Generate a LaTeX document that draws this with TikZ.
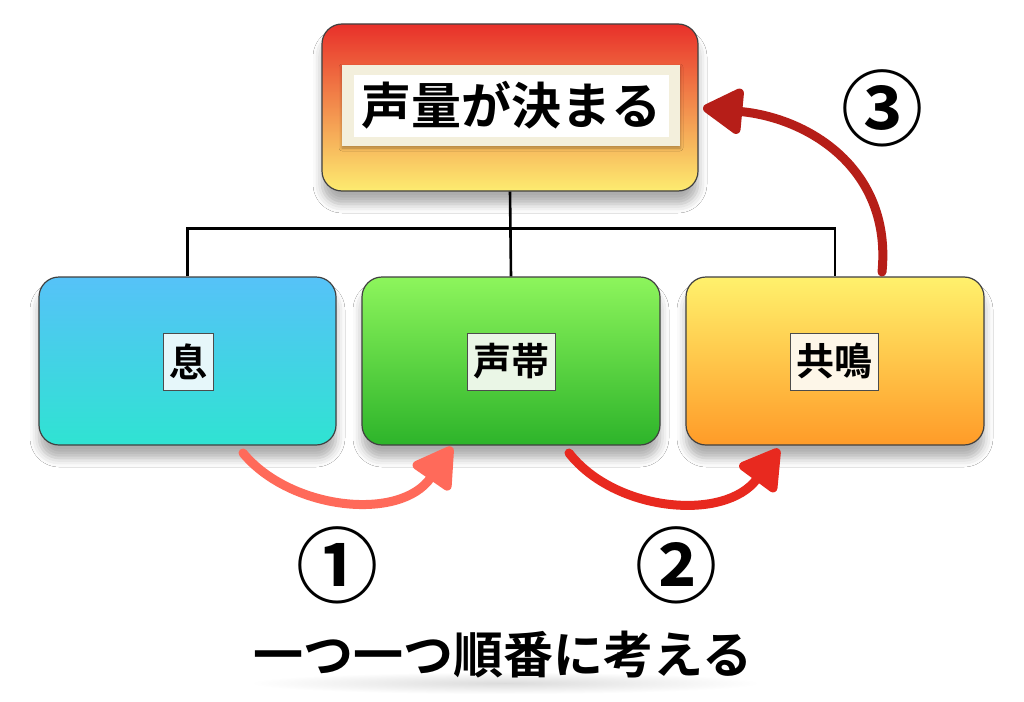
\documentclass[tikz,border=0pt]{standalone}
\usepackage{fontspec}
\newfontfamily\jp{Noto Sans CJK JP}[BoldFont={Noto Sans CJK JP Bold}]
\usetikzlibrary{arrows.meta,shadows.blur,calc}
\definecolor{topR}{HTML}{E8302A}
\definecolor{topY}{HTML}{FDEC70}
\definecolor{cyT}{HTML}{56C2F8}
\definecolor{cyB}{HTML}{2FE3D2}
\definecolor{grT}{HTML}{8DF55C}
\definecolor{grB}{HTML}{2DB42A}
\definecolor{yeT}{HTML}{FFF16C}
\definecolor{yeB}{HTML}{FF9B28}
\definecolor{cream}{HTML}{F3EFDC}
\definecolor{aOne}{HTML}{FF6A5A}
\definecolor{aTwo}{HTML}{E8291F}
\definecolor{aThree}{HTML}{B61E18}
\tikzset{
  bigbox/.style={draw=black!75, line width=1.2pt, rounded corners=20pt,
    blur shadow={shadow xshift=0pt, shadow yshift=-13pt, shadow blur radius=9pt, shadow opacity=32}},
  lab/.style={draw=black!70, line width=0.8pt, minimum height=57pt, inner sep=6pt,
    font=\jp\bfseries\fontsize{38}{38}\selectfont},
  tree/.style={line width=2.6pt, black},
  crayon/.style={line width=9pt, line cap=round,
    -{Triangle[length=44pt,width=50pt,round]}},
  circnum/.style={font=\jp\bfseries\fontsize{82}{82}\selectfont, inner sep=0pt},
}
\begin{document}
\begin{tikzpicture}[x=1pt,y=-1pt]
\useasboundingbox[fill=white] (0,0) rectangle (1024,701);

% faint shadow under caption
\shade[inner color=black!14, outer color=white] (250,672) rectangle (760,694);

% top box
\node[bigbox, top color=topR, bottom color=topY, minimum width=376pt, minimum height=167pt] (top) at (510,107.5) {};
\node[fill=cream, minimum width=338pt, minimum height=81pt, inner sep=0pt,
  blur shadow={shadow xshift=0pt, shadow yshift=-2pt, shadow blur radius=3pt, shadow opacity=30}] (tlab) at (511,105.5) {};
\node[fill=white, minimum width=315pt, minimum height=62pt, inner sep=0pt,
  font=\jp\bfseries\fontsize{50}{50}\selectfont] (ttxt) at (tlab) {声量が決まる};

% bottom boxes
\node[bigbox, top color=cyT, bottom color=cyB, minimum width=297pt, minimum height=168pt] (b1) at (187.5,361) {};
\node[bigbox, top color=grT, bottom color=grB, minimum width=298pt, minimum height=168pt] (b2) at (511,361) {};
\node[bigbox, top color=yeT, bottom color=yeB, minimum width=298pt, minimum height=168pt] (b3) at (835,361) {};

\node[lab, fill={rgb,255:red,230;green,247;blue,250}] (l1) at (188.5,361.5) {息};
\node[lab, fill={rgb,255:red,234;green,246;blue,230}] (l2) at (511.5,361.5) {声帯};
\node[lab, fill={rgb,255:red,253;green,246;blue,232}] (l3) at (834.5,361.5) {共鳴};

% tree connectors
\draw[tree] (top.south) -- (b2.north);
\draw[tree] (b1.north) -- ++(0,-48) -| (b3.north);

% crayon arrows
\coordinate (a1s) at (243,453);
\coordinate (a1e) at (452,447);
\coordinate (a2s) at (569,453);
\coordinate (a2e) at (779,449);
\coordinate (a3s) at (882,272);
\coordinate (a3e) at (703,108);
\draw[crayon, aOne] (a1s) .. controls (290,510) and (400,522) .. (a1e);
\draw[crayon, aTwo] (a2s) .. controls (615,512) and (725,522) .. (a2e);
\draw[crayon, aThree] (a3s) .. controls (892,170) and (810,118) .. (a3e);

% numbers
\node[circnum] (n1) at (337,565) {①};
\node[circnum] (n2) at (676,565) {②};
\node[circnum] (n3) at (882,108) {③};

% caption
\node[font=\jp\bfseries\fontsize{50}{50}\selectfont, inner sep=0pt] (cap) at (503,655) {一つ一つ順番に考える};
\end{tikzpicture}
\end{document}
